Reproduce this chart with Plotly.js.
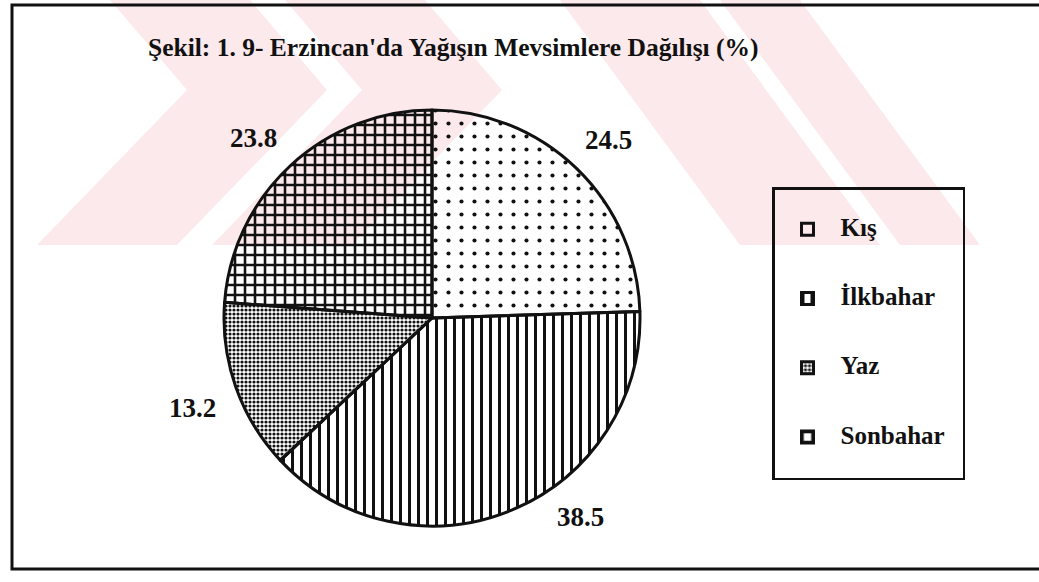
<!DOCTYPE html>
<html>
<head>
<meta charset="utf-8">
<script src="https://cdn.plot.ly/plotly-3.0.1.min.js"></script>
<style>html,body{margin:0;padding:0;background:#fff;}#chart{width:1039px;height:582px;}</style>
</head>
<body>
<div id="chart"></div>
<script>
// ---- data ----
const categories = ['Kış', 'İlkbahar', 'Yaz', 'Sonbahar'];
const values = [24.5, 38.5, 13.2, 23.8];
const titleText = "Şekil: 1. 9- Erzincan'da Yağışın Mevsimlere Dağılışı (%)";

// ---- layout helpers (pixel -> paper) ----
const W = 1039, H = 582;
const px = x => x / W;
const py = y => 1 - y / H;

const serif = '"Liberation Serif", "Times New Roman", serif';

// legend labels: blank lines above/below give the roomy spacing of the original legend
const legendLabels = categories.map(c => '\u00a0<br><span style="font-size:25px">' + c + '\u00a0\u00a0</span><br>\u00a0');

const cx = 432, cy = 318, r = 208;

const trace = {
  type: 'pie',
  labels: legendLabels,
  values: values,
  sort: false,
  direction: 'clockwise',
  rotation: 0,
  textinfo: 'none',
  hoverinfo: 'value',
  marker: {
    colors: ['rgba(255,255,255,0)', 'rgba(255,255,255,0)', 'rgba(255,255,255,0)', 'rgba(255,255,255,0)'],
    line: {color: '#111', width: 3},
    pattern: {
      shape: ['.', '|', '.', '+'],
      size: [13, 9, 4, 10],
      solidity: [0.08, 0.33, 0.5, 0.45],
      fgcolor: '#111',
      fgopacity: 1,
      bgcolor: 'rgba(255,255,255,0)',
      fillmode: 'overlay'
    }
  },
  domain: {x: [px(cx - r), px(cx + r)], y: [py(cy + r), py(cy - r)]},
  showlegend: true
};

// placement of the value labels around the pie (pixel positions, layout only)
const labelPos = [[608, 140], [580, 517], [192, 408], [253, 138]];
const annotations = values.map((v, i) => ({
  text: v.toFixed(1),
  xref: 'paper', yref: 'paper',
  x: px(labelPos[i][0]), y: py(labelPos[i][1]),
  xanchor: 'center', yanchor: 'middle', showarrow: false,
  font: {family: serif, size: 27, color: '#111', weight: 'bold'}
}));

// faint watermark polygons (pixel coordinates of the background decoration)
function poly(pts) {
  return {
    type: 'path', xref: 'paper', yref: 'paper', layer: 'below',
    path: 'M' + pts.map(p => px(p[0]) + ',' + py(p[1])).join(' L') + ' Z',
    fillcolor: '#fce9ec', line: {width: 0}
  };
}
const shapes = [
  poly([[110,0],[250,0],[327,90],[177,245],[37,245],[187,90]]),
  poly([[285,0],[425,0],[502,90],[352,245],[212,245],[362,90]]),
  poly([[560,0],[700,0],[880,245],[740,245]]),
  poly([[720,0],[800,0],[980,245],[900,245]]),
  {type: 'rect', xref: 'paper', yref: 'paper', layer: 'above',
   x0: px(12), x1: px(1050), y0: py(569), y1: py(5),
   line: {color: '#111', width: 3}, fillcolor: 'rgba(0,0,0,0)'}
];

const layout = {
  width: W, height: H,
  margin: {l: 0, r: 0, t: 0, b: 0, pad: 0},
  paper_bgcolor: '#ffffff',
  font: {family: serif, color: '#111'},
  title: {
    text: titleText,
    font: {family: serif, size: 25.5, color: '#111', weight: 'bold'},
    x: px(148), xanchor: 'left', xref: 'paper',
    y: py(47), yanchor: 'middle', yref: 'paper'
  },
  legend: {
    x: px(772), xanchor: 'left',
    y: py(187), yanchor: 'top',
    bgcolor: 'rgba(255,255,255,0)',
    bordercolor: '#111', borderwidth: 2.5,
    font: {family: serif, size: 17, color: '#111', weight: 'bold'},
    itemwidth: 56,
    traceorder: 'normal'
  },
  annotations: annotations,
  shapes: shapes
};

Plotly.newPlot('chart', [trace], layout, {displayModeBar: false, staticPlot: true});
</script>
</body>
</html>
